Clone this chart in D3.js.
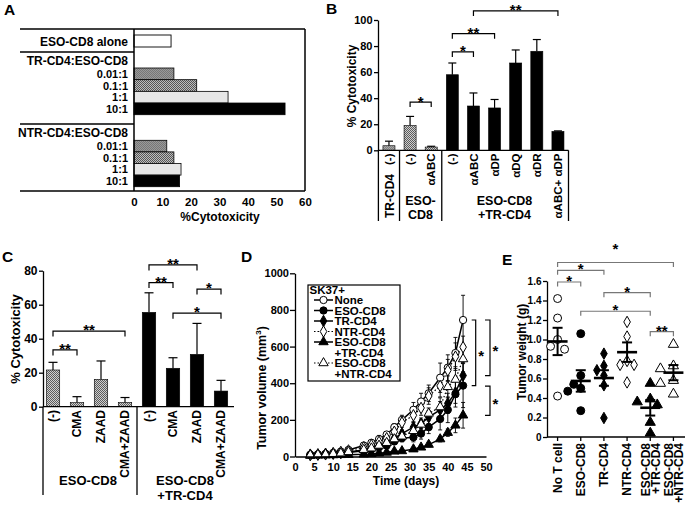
<!DOCTYPE html>
<html><head><meta charset="utf-8">
<script src="https://cdn.jsdelivr.net/npm/d3@7/dist/d3.min.js"></script>
<style>
body{margin:0;background:#fff;}
svg{display:block;font-family:"Liberation Sans",Arial,Helvetica,sans-serif;font-weight:bold;}
</style></head><body>
<svg id="fig" width="685" height="508"></svg>
<script>
// ===== Panel A data =====
const aRatios = ["0.01:1","0.1:1","1:1","10:1"];
const aAloneLabel = ["ESO-CD8 alone"];
const aAloneValue = [13];
const aTRValues = [14, 22, 33, 53];
const aNTRValues = [11.5, 14, 16.5, 16];
const aTicks = [0,10,20,30,40,50,60];
// ===== Panel B data =====
const bLabels = ["(-)","(-)","αABC","(-)","αABC","αDP","αDQ","αDR","αABC+ αDP"];
const bValues = [3.5, 19, 2.5, 58, 34, 32.5, 67, 76, 14.5];
const bErrors = [3.5, 7, 0.6, 9, 10, 6.5, 10, 9, 0.4];
const bTicks = [0,20,40,60,80,100];
const bBrackets = [[1,2,37,"*"],[3,4,75.5,"*"],[3,5,89.5,"**"],[4,8,107,"**"]];
// ===== Panel C data =====
const cLabels = ["(-)","CMA","ZAAD","CMA+ZAAD","(-)","CMA","ZAAD","CMA+ZAAD"];
const cValues = [21.6, 2.4, 16.1, 2.5, 55.5, 22.6, 30.8, 9.2];
const cErrors = [4.5, 3.5, 10.8, 2.9, 11.5, 6.2, 18.2, 6.3];
const cTicks = [0,20,40,60,80];
const cBrackets = [[0,1,33.4,"**"],[0,3,44.5,"**"],[4,5,73,"**"],[4,6,83.4,"**"],[6,7,69.2,"*"],[5,7,55,"*"]];
// ===== Panel D data =====
const dDays = [4,6,8,10,12,14,18,20,22,24,26,28,31,33,35,38,40,42,44];
const dNone    = [10,12,15,20,27,36,60,75,95,120,160,200,255,300,345,430,485,565,745];
const dNoneErr = [3,3,3,4,5,6,9,10,20,15,20,25,40,45,45,80,70,85,135];
const dESO     = [8,10,12,14,18,22,32,40,50,60,82,100,105,125,160,205,255,340,387];
const dESOErr  = [2,2,3,3,4,5,6,8,10,12,15,20,25,30,35,60,70,70,120];
const dTR      = [8,10,12,15,19,24,36,45,60,75,100,125,160,180,215,255,290,350,442];
const dTRErr   = [2,2,3,3,4,5,6,8,10,12,15,20,25,30,35,45,55,60,70];
const dNTR     = [10,12,15,19,25,33,50,62,80,100,135,185,225,265,330,385,470,545,597];
const dNTRErr  = [2,2,3,3,4,5,6,8,12,15,18,25,35,40,45,60,60,75,60];
const dESOTR   = [5,6,7,8,9,10,12,14,18,22,28,30,40,50,65,95,130,170,225];
const dESOTRErr= [1,1,1,1,2,2,2,3,4,5,6,8,8,10,12,15,20,40,70];
const dESONTR  = [8,10,12,15,18,25,37,45,60,75,95,110,140,175,235,270,380,420,532];
const dESONTRErr=[2,2,2,3,3,4,5,6,8,10,12,15,20,25,30,50,60,70,70];
const dNames = ["None","ESO-CD8","TR-CD4","NTR-CD4","ESO-CD8\n+TR-CD4","ESO-CD8\n+NTR-CD4"];
const dXTicks = [0,5,10,15,20,25,30,35,40,45,50];
const dYTicks = [0,200,400,600,800,1000];
// ===== Panel E data =====
const eCats = ["No T cell","ESO-CD8","TR-CD4","NTR-CD4","ESO-CD8\n+TR-CD4","ESO-CD8\n+NTR-CD4"];
const eNoT    = [1.42, 1.22, 1.00, 0.93, 0.90, 0.42];
const eESO    = [1.06, 0.63, 0.50, 0.54, 0.47, 0.27];
const eTR     = [0.855, 0.73, 0.63, 0.685, 0.53, 0.195];
const eNTR    = [1.18, 1.03, 0.78, 0.74, 0.74, 0.56];
const eESOTR  = [0.55, 0.39, 0.36, 0.33, 0.15, 0.04];
const eESONTR = [0.95, 0.73, 0.70, 0.58, 0.55, 0.44];
const eMeans  = [0.98, 0.575, 0.605, 0.87, 0.30, 0.66];
const eSEM    = [0.14, 0.11, 0.08, 0.10, 0.08, 0.078];
const eTicks  = [0,0.2,0.4,0.6,0.8,1.0,1.2,1.4,1.6];
const eBrackets = [[0,5,1.79,"*"],[0,2,1.71,"*"],[0,1,1.59,"*"],[2,4,1.48,"*"],[1,4,1.29,"*"],[4,5,1.08,"**"]];

// ===== helpers =====
const svg = d3.select("#fig");
svg.append("rect").attr("width",685).attr("height",508).attr("fill","#fff");
const defs = svg.append("defs");
function checker(id, c1, c2){
  const p = defs.append("pattern").attr("id",id).attr("width",2).attr("height",2).attr("patternUnits","userSpaceOnUse");
  p.append("rect").attr("width",2).attr("height",2).attr("fill",c2);
  p.append("rect").attr("width",1).attr("height",1).attr("fill",c1);
  p.append("rect").attr("x",1).attr("y",1).attr("width",1).attr("height",1).attr("fill",c1);
}
checker("hatch","#5c5c5c","#cfcfcf");
checker("hatchA2","#555","#bdbdbd");
checker("dotsA1","#777","#9a9a9a");
checker("dotsB","#808080","#a8a8a8");

function txt(g,x,y,s,size,anchor){
  return g.append("text").attr("x",x).attr("y",y).attr("font-size",size).attr("text-anchor",anchor||"start").text(s);
}
function ln(g,x1,y1,x2,y2,w,c){
  return g.append("line").attr("x1",x1).attr("y1",y1).attr("x2",x2).attr("y2",y2)
    .attr("stroke",c||"#000").attr("stroke-width",w||1.2);
}
function vtext(g,cx,y,s,size,anchor){
  return g.append("text").attr("transform",`translate(${cx+size*0.36},${y}) rotate(-90)`)
    .attr("font-size",size).attr("text-anchor",anchor||"end").text(s);
}
function bracket(g,x1,x2,y,label,leg,color,starSize,starDy){
  g.append("path").attr("d",`M${x1},${y+leg}V${y}H${x2}V${y+leg}`).attr("fill","none")
    .attr("stroke",color).attr("stroke-width",1.2);
  txt(g,(x1+x2)/2,y+starDy,label,starSize,"middle").attr("fill","#000");
}
function styleAxis(ax,size){
  ax.selectAll("text").attr("font-size",size).attr("font-weight","bold")
    .attr("font-family","'Liberation Sans',Arial,sans-serif").attr("fill","#000");
  ax.selectAll("line,path").attr("stroke","#000").attr("stroke-width",1.3);
}

// ===== Panel letters =====
[["A",4,15],["B",326,14],["C",2,262],["D",241,262],["E",502,265]].forEach(([s,x,y])=>txt(svg,x,y,s,15.5));

// ===== Panel A =====
const gA = svg.append("g");
const xA = d3.scaleLinear().domain([0,60]).range([134,305]);
const yAlone = d3.scaleBand().domain(aAloneLabel).range([35,47]);
const yTR = d3.scaleBand().domain(aRatios).range([68,114.7]);
const yNTR = d3.scaleBand().domain(aRatios).range([140.3,186.7]);
const aFill = ["url(#dotsA1)","url(#hatchA2)","#e6e6e6","#000"];
gA.selectAll(null).data(aAloneValue).join("rect")
  .attr("x",xA(0)).attr("y",yAlone(aAloneLabel[0])).attr("width",d=>xA(d)-xA(0))
  .attr("height",yAlone.bandwidth()).attr("fill","#fff").attr("stroke","#000").attr("stroke-width",0.9);
[[aTRValues,yTR],[aNTRValues,yNTR]].forEach(([vals,ys])=>{
  gA.selectAll(null).data(vals).join("rect")
    .attr("x",xA(0)).attr("y",(d,i)=>ys(aRatios[i])).attr("width",d=>xA(d)-xA(0))
    .attr("height",ys.bandwidth()).attr("fill",(d,i)=>aFill[i]).attr("stroke","#000").attr("stroke-width",0.8);
  aRatios.forEach(r=>txt(gA,128,ys(r)+ys.bandwidth()/2+4,r,11,"end"));
});
txt(gA,128,45.5,aAloneLabel[0],12,"end");
txt(gA,128,65,"TR-CD4:ESO-CD8",12,"end");
txt(gA,128,136.5,"NTR-CD4:ESO-CD8",12,"end");
ln(gA,20,29,305,29,1.5); ln(gA,20,191,305,191,1.5);
ln(gA,134,29,134,191,1.5); ln(gA,305,29,305,191,1.5);
ln(gA,20,52,134,52,1.5); ln(gA,20,124,134,124,1.5);
const axA = gA.append("g").attr("transform","translate(0,191)")
  .call(d3.axisBottom(xA).tickValues(aTicks).tickSize(0).tickPadding(7));
styleAxis(axA,11.5); axA.select(".domain").remove();
txt(gA,220,221,"%Cytotoxicity",12,"middle");

// ===== Panel B =====
const gB = svg.append("g");
const xB = d3.scaleBand().domain(d3.range(bValues.length)).range([378.4,568.5]).paddingInner(0.43).paddingOuter(0.215);
const yB = d3.scaleLinear().domain([0,100]).range([150.3,20]);
const bFill = i => i===0 ? "url(#dotsB)" : (i<3 ? "url(#hatch)" : "#000");
const bcx = i => xB(i)+xB.bandwidth()/2;
gB.selectAll(null).data(bValues).join("rect")
  .attr("x",(d,i)=>xB(i)).attr("y",d=>yB(d)).attr("width",xB.bandwidth())
  .attr("height",d=>yB(0)-yB(d)).attr("fill",(d,i)=>bFill(i)).attr("stroke","#000").attr("stroke-width",0.6);
bValues.forEach((v,i)=>{
  const yt=yB(v+bErrors[i]);
  ln(gB,bcx(i),yB(v),bcx(i),yt,1.2); ln(gB,bcx(i)-4,yt,bcx(i)+4,yt,1.2);
});
const axB = gB.append("g").attr("transform","translate(378,0)")
  .call(d3.axisLeft(yB).tickValues(bTicks).tickSize(4).tickPadding(1.5).tickSizeOuter(0));
styleAxis(axB,11);
ln(gB,378,150.3,568.5,150.3,1.3);
const stepB = xB.step();
[0,1,3,9].forEach(k=>ln(gB,378.4+k*stepB,150.3,378.4+k*stepB,221,1.3));
bLabels.forEach((s,i)=>{ if(i>0) vtext(gB,bcx(i),153.5,s,11.5,"end"); });
vtext(gB,bcx(0)-0.5,153.5,bLabels[0],11.5,"end");
vtext(gB,bcx(0)+1,218,"TR-CD4",12,"start");
txt(gB,420.5,205,"ESO-",12.5,"middle"); txt(gB,420.5,219,"CD8",12.5,"middle");
txt(gB,504.5,205,"ESO-CD8",12.5,"middle"); txt(gB,504.5,219,"+TR-CD4",12.5,"middle");
gB.append("text").attr("transform","translate(356,86) rotate(-90)")
  .attr("font-size",12).attr("text-anchor","middle").text("% Cytotoxicity");
bBrackets.forEach(([a,b,v,s])=>bracket(gB,bcx(a),bcx(b),yB(v),s,5,"#000",15,4.5));

// ===== Panel C =====
const gC = svg.append("g");
const xC = d3.scaleBand().domain(d3.range(cValues.length)).range([41,233]).paddingInner(0.44).paddingOuter(0.22);
const yC = d3.scaleLinear().domain([0,80]).range([406.7,270.7]);
const ccx = i => xC(i)+xC.bandwidth()/2;
gC.selectAll(null).data(cValues).join("rect")
  .attr("x",(d,i)=>xC(i)).attr("y",d=>yC(d)).attr("width",xC.bandwidth())
  .attr("height",d=>yC(0)-yC(d)).attr("fill",(d,i)=>i<4?"url(#hatch)":"#000").attr("stroke","#000").attr("stroke-width",0.6);
cValues.forEach((v,i)=>{
  const yt=yC(v+cErrors[i]);
  ln(gC,ccx(i),yC(v),ccx(i),yt,1.2); ln(gC,ccx(i)-4.5,yt,ccx(i)+4.5,yt,1.2);
});
const axC = gC.append("g").attr("transform","translate(43,0)")
  .call(d3.axisLeft(yC).tickValues(cTicks).tickSize(4).tickPadding(1.5).tickSizeOuter(0));
styleAxis(axC,12);
ln(gC,43,406.7,234,406.7,1.3);
ln(gC,43,406.7,43,495,1.3); ln(gC,137,406.7,137,495,1.3);
cLabels.forEach((s,i)=>vtext(gC,ccx(i),410,s,12,"end"));
txt(gC,88,485,"ESO-CD8",13,"middle");
txt(gC,185,485,"ESO-CD8",13,"middle"); txt(gC,185,500,"+TR-CD4",13,"middle");
gC.append("text").attr("transform","translate(19.5,339) rotate(-90)")
  .attr("font-size",13).attr("text-anchor","middle").text("% Cytotoxicity");
cBrackets.forEach(([a,b,v,s])=>bracket(gC,ccx(a),ccx(b),yC(v),s,5.5,"#000",15,4));

// ===== Panel D =====
const gD = svg.append("g");
const xD = d3.scaleLinear().domain([0,50]).range([295,486]);
const yD = d3.scaleLinear().domain([0,1000]).range([456.5,273.3]);
const dSeries = [
  {v:dNone,e:dNoneErr,sym:d3.symbolCircle,fill:"#fff",dash:null},
  {v:dESO,e:dESOErr,sym:d3.symbolCircle,fill:"#000",dash:null},
  {v:dTR,e:dTRErr,sym:d3.symbolDiamond,fill:"#000",dash:null},
  {v:dNTR,e:dNTRErr,sym:d3.symbolDiamond,fill:"#fff",dash:"1.5,2"},
  {v:dESOTR,e:dESOTRErr,sym:d3.symbolTriangle,fill:"#000",dash:null},
  {v:dESONTR,e:dESONTRErr,sym:d3.symbolTriangle,fill:"#fff",dash:"1.5,2"}
];
const symSize = s => s===d3.symbolCircle?42:38;
const lineGen = d3.line().x((d,i)=>xD(dDays[i])).y(d=>yD(d));
dSeries.forEach(s=>{
  gD.append("path").attr("d",lineGen(s.v)).attr("fill","none").attr("stroke","#000")
    .attr("stroke-width",s.dash?1.2:1.5).attr("stroke-dasharray",s.dash);
});
dSeries.forEach(s=>{
  s.v.forEach((v,i)=>{
    const x=xD(dDays[i]);
    ln(gD,x,yD(v-s.e[i]),x,yD(v+s.e[i]),0.9);
    ln(gD,x-2,yD(v+s.e[i]),x+2,yD(v+s.e[i]),0.9);
    ln(gD,x-2,yD(v-s.e[i]),x+2,yD(v-s.e[i]),0.9);
  });
});
dSeries.forEach(s=>{
  gD.selectAll(null).data(s.v).join("path")
    .attr("transform",(d,i)=>`translate(${xD(dDays[i])},${yD(d)})`)
    .attr("d",d3.symbol().type(s.sym).size(symSize(s.sym)))
    .attr("fill",s.fill).attr("stroke","#000").attr("stroke-width",1);
});
const axDy = gD.append("g").attr("transform","translate(295,0)")
  .call(d3.axisLeft(yD).tickValues(dYTicks).tickSize(5).tickPadding(1).tickSizeOuter(0).tickFormat(d3.format("d")));
styleAxis(axDy,11);
const axDx = gD.append("g").attr("transform","translate(0,456.5)")
  .call(d3.axisBottom(xD).tickValues(dXTicks).tickSize(0).tickPadding(7).tickSizeOuter(0));
styleAxis(axDx,11);
txt(gD,406,485,"Time (days)",12,"middle");
const tv = gD.append("text").attr("transform","translate(266,388) rotate(-90)")
  .attr("font-size",12.5).attr("text-anchor","middle");
tv.append("tspan").text("Tumor volume (mm");
tv.append("tspan").attr("font-size",8).attr("dy",-5).text("3");
tv.append("tspan").attr("dy",5).text(")");
// legend
gD.append("rect").attr("x",308).attr("y",285).attr("width",92).attr("height",96)
  .attr("fill","#fff").attr("stroke","#000").attr("stroke-width",1.2);
txt(gD,309.5,294,"SK37+",11.5);
let lineNo=0;
dNames.forEach((nm,k)=>{
  const parts=nm.split("\n");
  const yb=304+lineNo*10.5;
  const s=dSeries[k];
  ln(gD,314,yb-4,333,yb-4,s.dash?1.1:1.5).attr("stroke-dasharray",s.dash);
  gD.append("path").attr("transform",`translate(323.5,${yb-4})`)
    .attr("d",d3.symbol().type(s.sym).size(symSize(s.sym))).attr("fill",s.fill).attr("stroke","#000");
  parts.forEach((p,j)=>txt(gD,334.5,yb+j*10.5,p,11.5));
  lineNo+=parts.length;
});
// significance brackets D
const dLast = a => a[a.length-1];
function vbr(xl,xt,y1,y2,label){
  gD.append("path").attr("d",`M${xt},${y1}H${xl}V${y2}H${xt}`).attr("fill","none").attr("stroke","#000").attr("stroke-width",1.2);
  txt(gD,xl+5.5,(y1+y2)/2+8.5,label,15,"middle");
}
vbr(475.7,471.7,yD(dLast(dNone)),yD(dLast(dESO)),"*");
vbr(490,485,yD(dLast(dNone)),yD(dLast(dTR)),"*");
vbr(490,485,yD(dLast(dESO))+0.5,yD(dLast(dESOTR)),"*");

// ===== Panel E =====
const gE = svg.append("g");
const xE = d3.scaleBand().domain(eCats).range([546,685]);
const yE = d3.scaleLinear().domain([0,1.6]).range([437,281]);
const ecx = i => xE(eCats[i])+xE.bandwidth()/2;
const ePts = [eNoT,eESO,eTR,eNTR,eESOTR,eESONTR];
const eSym = [[d3.symbolCircle,"#fff",50],[d3.symbolCircle,"#000",50],[d3.symbolDiamond,"#000",38],
              [d3.symbolDiamond,"#fff",38],[d3.symbolTriangle,"#000",45],[d3.symbolTriangle,"#fff",45]];
function swarm(vals){
  const placed=[], offs=[0,-7,7,-13,13];
  return vals.map(v=>{
    const py=yE(v);
    for(const o of offs){
      if(!placed.some(p=>Math.hypot(p.x-o,p.y-py)<7.6)){placed.push({x:o,y:py});return o;}
    }
    placed.push({x:0,y:py}); return 0;
  });
}
const axEy = gE.append("g").attr("transform","translate(547,0)")
  .call(d3.axisLeft(yE).tickValues(eTicks).tickSize(4).tickPadding(1.5).tickSizeOuter(0)
  .tickFormat(d=>d===0?"0":d3.format(".1f")(d)));
styleAxis(axEy,10);
const axEx = gE.append("g").attr("transform","translate(0,437)")
  .call(d3.axisBottom(xE).tickSize(4).tickSizeOuter(0).tickFormat(""));
styleAxis(axEx,11);
axEx.select(".domain").attr("d","M547,0H685");
ePts.forEach((vals,k)=>{
  const offs=swarm(vals);
  gE.selectAll(null).data(vals).join("path")
    .attr("transform",(d,i)=>`translate(${ecx(k)+offs[i]},${yE(d)})`)
    .attr("d",d3.symbol().type(eSym[k][0]).size(eSym[k][2]))
    .attr("fill",eSym[k][1]).attr("stroke","#000").attr("stroke-width",1);
  const cx=ecx(k), m=eMeans[k], se=eSEM[k];
  ln(gE,cx-10,yE(m),cx+10,yE(m),2.6);
  ln(gE,cx,yE(m-se),cx,yE(m+se),2);
  ln(gE,cx-5,yE(m+se),cx+5,yE(m+se),2);
  ln(gE,cx-5,yE(m-se),cx+5,yE(m-se),2);
});
eCats.forEach((c,i)=>{
  const parts=c.split("\n");
  parts.forEach((p,j)=>vtext(gE,ecx(i)+(j-(parts.length-1)/2)*10,443,p,12,"end"));
});
gE.append("text").attr("transform","translate(525.5,352) rotate(-90)")
  .attr("font-size",12).attr("text-anchor","middle").text("Tumor weight (g)");
eBrackets.forEach(([a,b,v,s],k)=>bracket(gE,ecx(a),ecx(b),yE(v),s,4.5,"#777",15,k===0?-8:4));
</script>
</body></html>
